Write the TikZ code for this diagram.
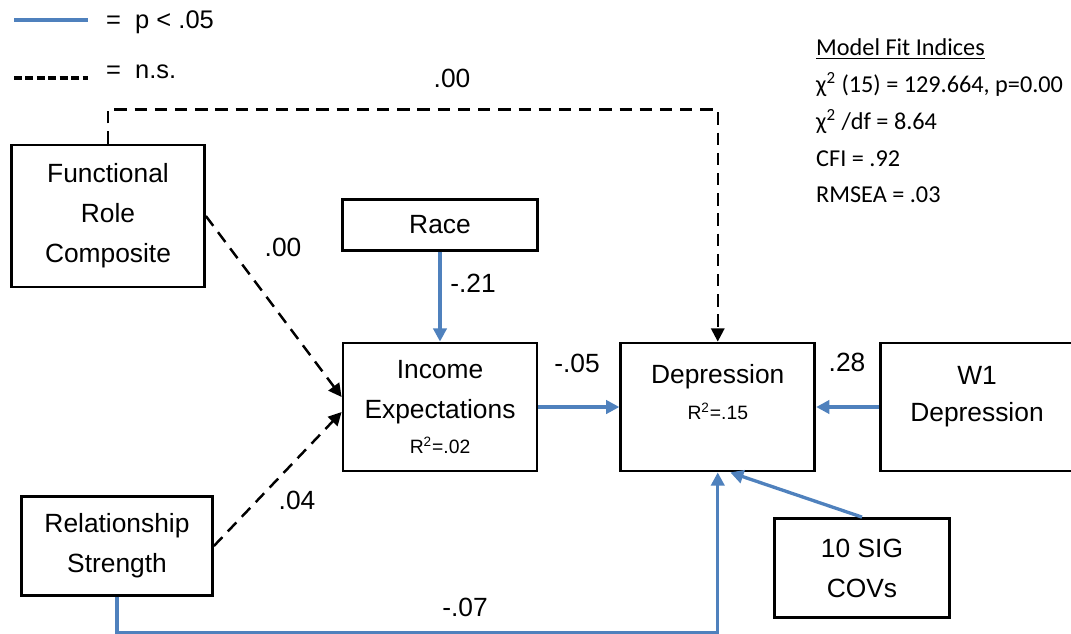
\documentclass[tikz,border=0pt]{standalone}
\usepackage{fontspec}
\setmainfont{Liberation Sans}
\newfontfamily\fitfont{Carlito}
\usepackage{tikz}
\usetikzlibrary{arrows.meta,positioning}
\definecolor{sigblue}{RGB}{79,129,189}
\newcommand{\padbelow}[1]{\rule[-#1]{0pt}{#1}}

\begin{document}
\begin{tikzpicture}[
  x=0.02cm,y=-0.02cm,
  font=\fontsize{15}{22.7}\selectfont,
  every node/.style={align=center},
  box/.style={draw,line width=1.6pt,inner sep=0pt,minimum width=3.88cm,
              minimum height=2.56cm},
  sig/.style={-{Triangle[length=7.5pt,width=7.5pt]},line width=1.9pt,draw=sigblue},
  ns/.style={-{Triangle[length=7.5pt,width=7.5pt]},line width=1.4pt,
             dash pattern=on 7pt off 4.5pt}
]
\useasboundingbox (0,0) rectangle (1071,633);

% Legend.
\coordinate (lsa) at (14,20);
\coordinate (lsb) at (88,20);
\coordinate (lna) at (14,78);
\coordinate (lnb) at (88,78);
\draw[line width=2.3pt,sigblue] (lsa) -- (lsb);
\draw[line width=1.8pt,dash pattern=on 4.5pt off 2pt] (lna) -- (lnb);
\node[anchor=west,font=\fontsize{14.5}{17}\selectfont] (lsig) at (100,22) {= \ p < .05};
\node[anchor=west,font=\fontsize{14.5}{17}\selectfont] (lns) at (100,72) {= \ n.s.};

% Fit indices.
\node[anchor=west,align=left,font=\fitfont\fontsize{13.8}{20.9}\selectfont] (fit) at (810,121)
  {\underline{Model Fit Indices}\\
   χ\textsuperscript{2} (15) = 129.664, p=0.00\\
   χ\textsuperscript{2} /df = 8.64\\
   CFI = .92\\
   RMSEA = .03};

% Variables.
\node[box,minimum width=3.86cm,minimum height=2.84cm] (func) at (108,216)
  {Functional\\Role\\Composite};
\node[box] (inc) at (440,407)
  {Income\\Expectations\\[-3pt]{\fontsize{11}{13}\selectfont R\textsuperscript{2}=.02}};
\node[box,minimum width=3.9cm,minimum height=1.02cm,above=1.8cm of inc] (race) {Race};
\node[box,right=1.62cm of inc] (dep)
  {Depression\\[-2pt]{\fontsize{11}{13}\selectfont R\textsuperscript{2}=.15}\padbelow{17pt}};
\node[box,minimum width=3.86cm,right=1.26cm of dep] (w1)
  {W1\\[-2pt]Depression\padbelow{15pt}};
\node[box,minimum width=3.82cm,minimum height=1.98cm] (rel) at (117,546)
  {Relationship\\Strength};
\node[box,minimum width=3.5cm,minimum height=1.98cm] (cov) at (862,568)
  {10 SIG\\COVs};

% Non-significant paths.
\draw[ns] (func.north) -- ++(0,-34) -| (dep.north);
\draw[ns] (func.east) -- ([yshift=0.2cm]inc.west);
\draw[ns] (rel.east) -- ([yshift=-0.1cm]inc.west);

% Significant paths.
\draw[sig] (race) -- (inc);
\draw[sig] (inc) -- (dep);
\draw[sig] (w1) -- (dep);
\draw[sig] (cov.north) -- ([xshift=0.25cm]dep.south);
\draw[sig] (rel.south) -- ++(0,36) -| (dep.south);

% Path coefficients.
\node (cft) at (452,78) {.00};
\node (cfi) at (283,247) {.00};
\node (crs) at (297,500) {.04};
\node (crc) at (473,283) {-.21};
\node (cie) at (577,363) {-.05};
\node (cw1) at (847,362) {.28};
\node (crd) at (465,607) {-.07};
\end{tikzpicture}
\end{document}
